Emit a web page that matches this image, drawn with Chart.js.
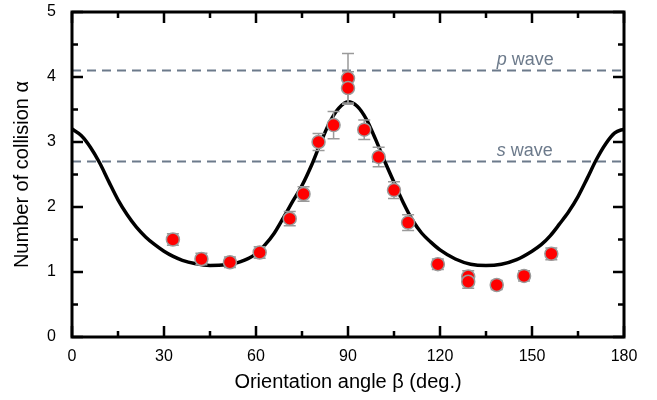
<!DOCTYPE html>
<html>
<head>
<meta charset="utf-8">
<script src="https://cdn.jsdelivr.net/npm/chart.js@4/dist/chart.umd.min.js"></script>
<style>
  html, body { margin: 0; padding: 0; background: #fff; }
  #wrap { width: 657px; height: 400px; }
</style>
</head>
<body>
<div id="wrap"><canvas id="collisions" width="657" height="400"></canvas></div>
<script>
// Fitted curve, alpha vs beta
const curveAngle = [0, 3, 6, 9, 12, 15, 18, 21, 24, 27, 30, 33, 36, 40, 45, 50, 55, 60, 63, 66, 69, 72, 75, 78, 81, 84, 87, 90,
                    93, 96, 99, 102, 105, 108, 111, 114, 117, 120, 125, 130, 135, 140, 145, 150, 153, 156, 159, 162, 165, 168, 171, 174, 177, 180];
const curveAlpha = [3.20, 3.10, 2.92, 2.68, 2.39, 2.11, 1.88, 1.69, 1.54, 1.42, 1.32, 1.24, 1.18, 1.13, 1.10, 1.11, 1.16, 1.28, 1.42, 1.60, 1.84, 2.09, 2.33, 2.63, 2.98, 3.30, 3.52, 3.62,
                    3.55, 3.35, 3.04, 2.70, 2.38, 2.07, 1.80, 1.60, 1.46, 1.34, 1.20, 1.12, 1.10, 1.12, 1.19, 1.32, 1.42, 1.56, 1.74, 1.93, 2.16, 2.44, 2.73, 2.97, 3.14, 3.20];

// Measured points with error
const pointAngle = [32.9, 42.2, 51.5, 61.2, 71.0, 75.5, 80.4, 85.3, 90.0, 90.0, 95.3, 100.0, 105.0, 109.6, 119.3, 129.2, 129.2, 138.5, 147.4, 156.3];
const pointAlpha = [1.50, 1.20, 1.15, 1.30, 1.82, 2.20, 3.00, 3.26, 3.98, 3.83, 3.19, 2.77, 2.26, 1.76, 1.12, 0.93, 0.85, 0.80, 0.94, 1.28];
const pointErr   = [0.09, 0.09, 0.08, 0.09, 0.11, 0.11, 0.13, 0.21, 0.38, 0.25, 0.15, 0.15, 0.13, 0.12, 0.08, 0.09, 0.10, 0.07, 0.08, 0.09];

// Reference levels
const waveNames = ['p', 's'];
const waveLevel = [4.1, 2.7];

const xTicks = [0, 30, 60, 90, 120, 150, 180];
const yTicks = [0, 1, 2, 3, 4, 5];

const FONT = '"Liberation Sans", Arial, Helvetica, sans-serif';
const WAVE_COLOR = '#6c7a8b';

const curvePts = curveAngle.map((a, i) => ({ x: a, y: curveAlpha[i] }));
const dataPts = pointAngle.map((a, i) => ({ x: a, y: pointAlpha[i] }));

// error bars go under the markers
const errorBars = {
    id: 'errorBars',
    beforeDatasetDraw(chart, args) {
        if (args.index !== 0) return;
        const { ctx, scales: { x, y } } = chart;
        ctx.save();
        ctx.strokeStyle = '#9a9a9a';
        ctx.lineWidth = 1.5;
        for (let i = 0; i < pointAngle.length; i++) {
            const px = x.getPixelForValue(pointAngle[i]);
            const top = y.getPixelForValue(pointAlpha[i] + pointErr[i]);
            const bot = y.getPixelForValue(pointAlpha[i] - pointErr[i]);
            ctx.beginPath();
            ctx.moveTo(px, top); ctx.lineTo(px, bot);
            ctx.moveTo(px - 6, top); ctx.lineTo(px + 6, top);
            ctx.moveTo(px - 6, bot); ctx.lineTo(px + 6, bot);
            ctx.stroke();
        }
        ctx.restore();
    }
};

// box around the plot with inward ticks on all four sides
const frameTicks = {
    id: 'frameTicks',
    afterDraw(chart) {
        const { ctx, chartArea: a, scales: { x, y } } = chart;
        ctx.save();
        ctx.strokeStyle = '#000';
        ctx.lineWidth = 2.5;
        ctx.beginPath();
        for (let v = 0; v <= 180; v += 15) {
            const px = x.getPixelForValue(v);
            const len = v % 30 === 0 ? 11 : 6;
            ctx.moveTo(px, a.bottom); ctx.lineTo(px, a.bottom - len);
            ctx.moveTo(px, a.top); ctx.lineTo(px, a.top + len);
        }
        for (let v = 0; v <= 5; v += 0.5) {
            const py = y.getPixelForValue(v);
            const len = v % 1 === 0 ? 11 : 6;
            ctx.moveTo(a.left, py); ctx.lineTo(a.left + len, py);
            ctx.moveTo(a.right, py); ctx.lineTo(a.right - len, py);
        }
        ctx.stroke();
        ctx.lineWidth = 3;
        ctx.strokeRect(a.left, a.top, a.right - a.left, a.bottom - a.top);
        ctx.restore();
    }
};

// "p wave" / "s wave" captions above the dashed lines
const waveLabels = {
    id: 'waveLabels',
    afterDatasetsDraw(chart) {
        const { ctx, scales: { x, y } } = chart;
        ctx.save();
        ctx.fillStyle = WAVE_COLOR;
        ctx.textBaseline = 'alphabetic';
        const x0 = x.getPixelForValue(138.5);
        waveNames.forEach((n, i) => {
            const py = y.getPixelForValue(waveLevel[i]) - 6;
            ctx.font = 'italic 18px ' + FONT;
            ctx.fillText(n, x0, py);
            const w = ctx.measureText(n).width;
            ctx.font = '18px ' + FONT;
            ctx.fillText(' wave', x0 + w, py);
        });
        ctx.restore();
    }
};

const waveSets = waveLevel.map(l => ({
    type: 'line',
    data: [{ x: 0, y: l }, { x: 180, y: l }],
    borderColor: WAVE_COLOR,
    borderWidth: 2,
    borderDash: [9, 6],
    pointRadius: 0
}));

new Chart(document.getElementById('collisions'), {
    data: {
        datasets: [
            {
                type: 'scatter',
                data: dataPts,
                backgroundColor: '#ff0000',
                borderColor: '#9a9a9a',
                borderWidth: 1.5,
                pointRadius: 6.5
            },
            {
                type: 'line',
                data: curvePts,
                borderColor: '#000',
                borderWidth: 3.5,
                pointRadius: 0,
                cubicInterpolationMode: 'monotone'
            },
            ...waveSets
        ]
    },
    options: {
        responsive: false,
        animation: false,
        layout: { padding: { top: 12, right: 33, left: 0, bottom: 0 } },
        plugins: { legend: { display: false }, tooltip: { enabled: false } },
        scales: {
            x: {
                type: 'linear', min: 0, max: 180,
                afterBuildTicks(s) { s.ticks = xTicks.map(v => ({ value: v })); },
                ticks: { padding: 10, color: '#000', font: { family: FONT, size: 16 } },
                grid: { display: false, drawTicks: false },
                border: { display: false },
                title: { display: true, text: 'Orientation angle β (deg.)', color: '#000',
                         font: { family: FONT, size: 20 }, padding: { top: 0, bottom: 6 } },
                afterFit(s) { s.height = 63; s.paddingLeft = 0; s.paddingRight = 0; }
            },
            y: {
                type: 'linear', min: 0, max: 5,
                afterBuildTicks(s) { s.ticks = yTicks.map(v => ({ value: v })); },
                ticks: { padding: 16, color: '#000', font: { family: FONT, size: 16 } },
                grid: { display: false, drawTicks: false },
                border: { display: false },
                title: { display: true, text: 'Number of collision α', color: '#000',
                         font: { family: FONT, size: 20 }, padding: { top: 10, bottom: 0 } },
                afterFit(s) { s.width = 72; s.paddingTop = 0; s.paddingBottom = 0; }
            }
        }
    },
    plugins: [errorBars, frameTicks, waveLabels]
});
</script>
</body>
</html>
